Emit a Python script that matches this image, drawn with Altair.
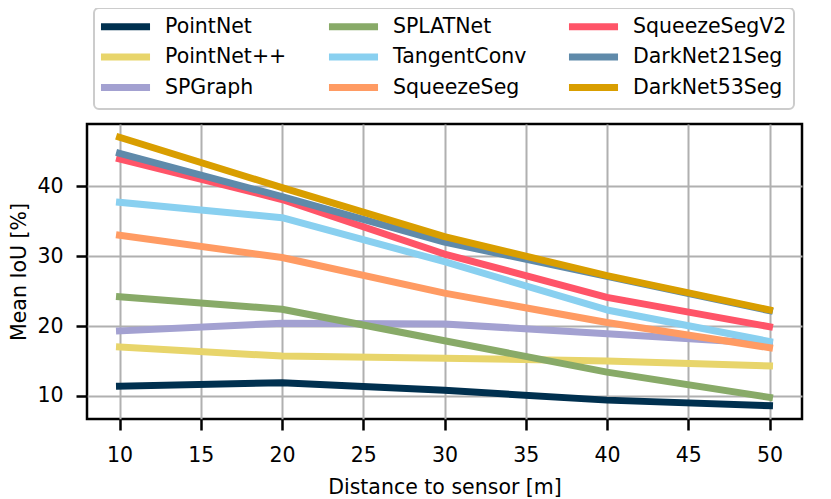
import altair as alt
import pandas as pd

distances = [10, 20, 30, 40, 50]
models = ["PointNet", "PointNet++", "SPGraph", "SPLATNet", "TangentConv",
          "SqueezeSeg", "SqueezeSegV2", "DarkNet21Seg", "DarkNet53Seg"]
colors = ["#00304f", "#e8d56b", "#a3a1d1", "#88aa68", "#89d0f0",
          "#ff9b63", "#ff5468", "#5f8aaa", "#d99e00"]

pointnet = [11.4, 11.9, 10.8, 9.4, 8.6]
pointnet_pp = [17.0, 15.7, 15.4, 15.0, 14.3]
spgraph = [19.3, 20.4, 20.3, 18.9, 17.5]
splatnet = [24.2, 22.4, 17.9, 13.4, 9.8]
tangentconv = [37.7, 35.5, 29.2, 22.3, 17.8]
squeezeseg = [33.0, 29.8, 24.7, 20.5, 16.9]
squeezesegv2 = [43.9, 38.1, 30.3, 24.1, 19.9]
darknet21 = [44.7, 38.5, 32.0, 27.1, 22.2]
darknet53 = [47.0, 39.8, 32.8, 27.2, 22.3]

series = [pointnet, pointnet_pp, spgraph, splatnet, tangentconv,
          squeezeseg, squeezesegv2, darknet21, darknet53]

rows = []
for m, vals in zip(models, series):
    for d, v in zip(distances, vals):
        rows.append({"model": m, "distance": d, "miou": v})
df = pd.DataFrame(rows)

FONT = "DejaVu Sans"

chart = alt.Chart(df).mark_line(
    strokeWidth=7, strokeCap="square", strokeJoin="round"
).encode(
    x=alt.X("distance:Q",
            scale=alt.Scale(domain=[8, 52], nice=False, zero=False),
            axis=alt.Axis(values=[10, 15, 20, 25, 30, 35, 40, 45, 50],
                          title="Distance to sensor [m]",
                          labelPadding=15, titlePadding=12)),
    y=alt.Y("miou:Q",
            scale=alt.Scale(domain=[6.7, 48.9], nice=False, zero=False),
            axis=alt.Axis(values=[10, 20, 30, 40],
                          title="Mean IoU [%]",
                          labelPadding=13, titlePadding=7)),
    color=alt.Color("model:N",
                    scale=alt.Scale(domain=models, range=colors),
                    legend=alt.Legend(
                        title=None,
                        orient="none",
                        legendX=7,
                        legendY=-116,
                        columns=3,
                        columnPadding=27,
                        rowPadding=1.5,
                        padding=7,
                        symbolType="M-1.44,0L4.69,0",
                        symbolSize=256,
                        symbolStrokeWidth=7,
                        labelOffset=41,
                        labelFontSize=20.5,
                        labelFont=FONT,
                        labelColor="#000000",
                        strokeColor="#cccccc",
                        fillColor="#ffffff",
                        cornerRadius=5,
                    )),
).properties(
    width=715,
    height=295,
    autosize=alt.AutoSizeParams(type="none"),
    padding={"left": 79, "top": 116, "right": 21, "bottom": 80},
).configure_view(
    stroke="#000000", strokeWidth=2.5
).configure_axis(
    labelFont=FONT, titleFont=FONT,
    labelFontSize=20.5, titleFontSize=20.5,
    labelColor="#000000", titleColor="#000000",
    titleFontWeight="normal",
    domain=False,
    grid=True, gridColor="#b0b0b0", gridWidth=2,
    ticks=True, tickColor="#000000", tickSize=11, tickWidth=2.5,
).configure_legend(
    strokeWidth=2
)

chart.save("out.html", embed_options={"renderer": "svg", "actions": False})
